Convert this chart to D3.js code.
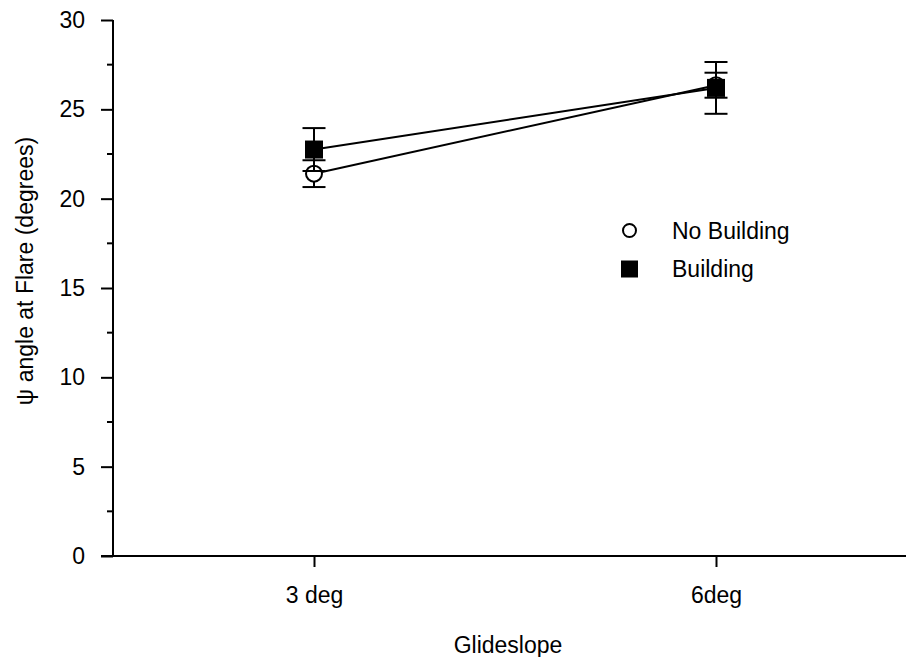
<!DOCTYPE html>
<html>
<head>
<meta charset="utf-8">
<script src="https://cdn.jsdelivr.net/npm/d3@7"></script>
<style>
  html, body { margin: 0; padding: 0; background: #fff; }
  svg { display: block; font-family: "Liberation Sans", Arial, Helvetica, sans-serif; }
</style>
</head>
<body>
<svg id="chart" width="907" height="657"></svg>
<script>
// ---- data ----
const categories = ["3 deg", "6deg"];
const seriesNames = ["No Building", "Building"];
const noBuildingMean = [21.4, 26.35];
const noBuildingErr = [0.75, 0.7];
const buildingMean = [22.75, 26.2];
const buildingErr = [1.2, 1.45];
const yTicks = [0, 5, 10, 15, 20, 25, 30];
const yMinorTicks = [2.5, 7.5, 12.5, 17.5, 22.5, 27.5];
const xTitle = "Glideslope";
const yTitle = "ψ angle at Flare (degrees)";

const FS = 23;
const svg = d3.select("#chart");
const x = d3.scalePoint().domain(categories).range([113, 917]).padding(0.5);
const y = d3.scaleLinear().domain([0, 30]).range([556, 20]);

const black = "#000";

// axes
const yAxis = d3.axisLeft(y).tickValues(yTicks).tickSize(12).tickPadding(16).tickFormat(d3.format("d"));
const gy = svg.append("g").attr("transform", "translate(113,0)").call(yAxis);
gy.select(".domain").remove();
gy.selectAll(".tick line").attr("stroke", black).attr("stroke-width", 2);
gy.selectAll(".tick text").attr("font-size", FS).attr("fill", black).attr("font-family", "Liberation Sans, Arial, sans-serif");
gy.selectAll(".minor").data(yMinorTicks).enter().append("line")
  .attr("x1", -6).attr("x2", 0)
  .attr("y1", d => y(d)).attr("y2", d => y(d))
  .attr("stroke", black).attr("stroke-width", 2);
svg.append("line").attr("x1", 113).attr("x2", 113).attr("y1", y(30)).attr("y2", y(0))
  .attr("stroke", black).attr("stroke-width", 2);

const xAxis = d3.axisBottom(x).tickSize(11).tickPadding(20);
const gx = svg.append("g").attr("transform", "translate(0,556)").call(xAxis);
gx.select(".domain").remove();
gx.selectAll(".tick line").attr("stroke", black).attr("stroke-width", 2);
gx.selectAll(".tick text").attr("font-size", FS).attr("fill", black).attr("font-family", "Liberation Sans, Arial, sans-serif");
svg.append("line").attr("x1", 101).attr("x2", 906).attr("y1", 556).attr("y2", 556)
  .attr("stroke", black).attr("stroke-width", 2);

// titles
svg.append("text").attr("x", 508).attr("y", 653).attr("text-anchor", "middle")
  .attr("font-size", FS).attr("fill", black).text(xTitle);
svg.append("text").attr("transform", "translate(33,271) rotate(-90)")
  .attr("text-anchor", "middle").attr("font-size", FS).attr("fill", black).text(yTitle);

// series
const series = [
  { name: seriesNames[0], mean: noBuildingMean, err: noBuildingErr, shape: "circle" },
  { name: seriesNames[1], mean: buildingMean, err: buildingErr, shape: "square" }
];
const capHalf = 11.5;

series.forEach(s => {
  const pts = categories.map((c, i) => ({ c, m: s.mean[i], e: s.err[i] }));
  const g = svg.append("g");
  pts.forEach(p => {
    const cx = x(p.c);
    g.append("line").attr("x1", cx).attr("x2", cx).attr("y1", y(p.m - p.e)).attr("y2", y(p.m + p.e))
      .attr("stroke", black).attr("stroke-width", 2);
    [p.m - p.e, p.m + p.e].forEach(v => {
      g.append("line").attr("x1", cx - capHalf).attr("x2", cx + capHalf).attr("y1", y(v)).attr("y2", y(v))
        .attr("stroke", black).attr("stroke-width", 2);
    });
  });
  g.append("path").datum(pts)
    .attr("d", d3.line().x(p => x(p.c)).y(p => y(p.m)))
    .attr("fill", "none").attr("stroke", black).attr("stroke-width", 2);
  s.g = g; s.pts = pts;
});

series.forEach(s => {
  s.pts.forEach(p => {
    const cx = x(p.c), cy = y(p.m);
    if (s.shape === "circle") {
      s.g.append("circle").attr("cx", cx).attr("cy", cy).attr("r", 8)
        .attr("fill", "#fff").attr("stroke", black).attr("stroke-width", 2);
    } else {
      s.g.append("rect").attr("x", cx - 9).attr("y", cy - 9).attr("width", 18).attr("height", 18)
        .attr("fill", black);
    }
  });
});

// legend
const legend = svg.append("g");
series.forEach((s, i) => {
  const ly = 230.5 + i * 38.5;
  if (s.shape === "circle") {
    legend.append("circle").attr("cx", 629.5).attr("cy", ly).attr("r", 6.5)
      .attr("fill", "#fff").attr("stroke", black).attr("stroke-width", 2);
  } else {
    legend.append("rect").attr("x", 621).attr("y", ly - 8.5).attr("width", 17).attr("height", 17).attr("fill", black);
  }
  legend.append("text").attr("x", 672).attr("y", ly + 8).attr("font-size", FS).attr("fill", black).text(s.name);
});
</script>
</body>
</html>
